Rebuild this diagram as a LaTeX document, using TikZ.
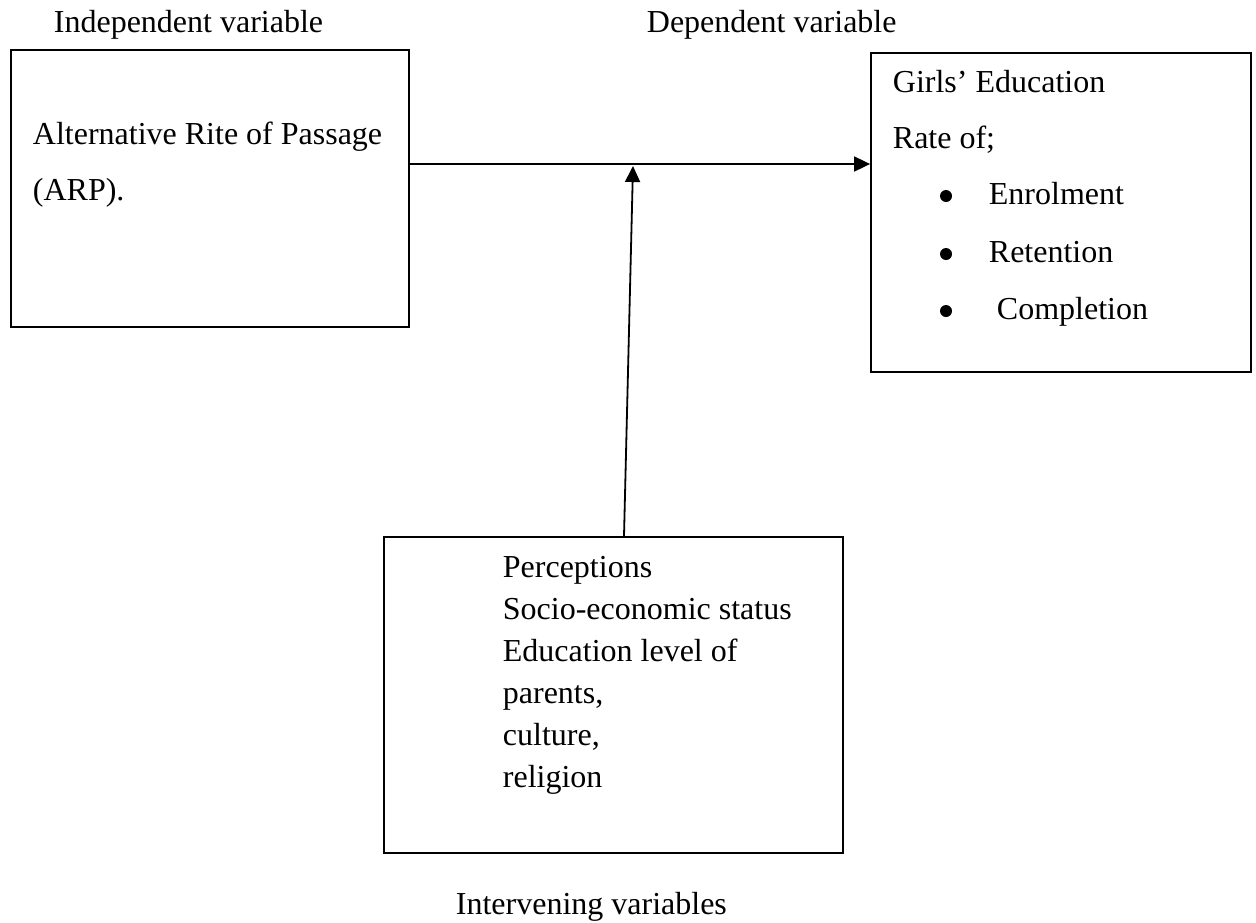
\documentclass[tikz,border=0pt]{standalone}
\usepackage{fontspec}
\setmainfont{Liberation Serif}
\usepackage{tikz}
\usetikzlibrary{positioning}
\usetikzlibrary{arrows.meta}

\begin{document}
\begin{tikzpicture}[x=1pt,y=-1pt,line width=1.8pt,
   >={Triangle[length=16pt,width=15pt]},
   box/.style={draw,rectangle,inner sep=0pt},
   txt/.style={inner sep=0pt,anchor=base west,font=\fontsize{32}{38}\selectfont},
   dot/.style={circle,fill,draw=none,inner sep=0pt,minimum size=12pt}]
   \useasboundingbox (0,0) rectangle (1256,922);

   % headings
   \node[txt] (indep) at (53,32) {Independent variable};
   \node[txt] (dep) at (646,32) {Dependent variable};
   \node[txt] (interv) at (455,914) {Intervening variables};

   % boxes
   \node[box,minimum width=398pt,minimum height=277pt] (arp) at (210,188.5) {};
   \node[box,minimum width=380pt,minimum height=319pt] (girls) at (1061,212.5) {};
   \node[box,minimum width=459pt,minimum height=316pt] (inter) at (613.5,695) {};

   % left box
   \node[txt] (arp1) at (32,144) {Alternative Rite of Passage};
   \node[txt] (arp2) at (32,200) {(ARP).};

   % right box
   \node[txt] (girls1) at (892,92) {Girls’ Education};
   \node[txt] (girls2) at (892,148) {Rate of;};
   \node[dot] (b1) at (946,196) {};
   \node[txt] (enrol) at (988,204) {Enrolment};
   \node[dot] (b2) at (946,254) {};
   \node[txt] (reten) at (988,262) {Retention};
   \node[dot] (b3) at (946,311) {};
   \node[txt] (compl) at (996,319) {Completion};

   % bottom box
   \node[txt] (int1) at (502,577) {Perceptions};
   \node[txt] (int2) at (502,619) {Socio-economic status};
   \node[txt] (int3) at (502,661) {Education level of};
   \node[txt] (int4) at (502,703) {parents,};
   \node[txt] (int5) at (502,745) {culture,};
   \node[txt] (int6) at (502,787) {religion};

   % arrows
   \coordinate (join) at (633,164);
   \draw[->] (arp.east |- join) -- (girls.west |- join);
   \draw[->] ([xshift=10.5pt]inter.north) -- ([yshift=-2pt]join);
\end{tikzpicture}
\end{document}
